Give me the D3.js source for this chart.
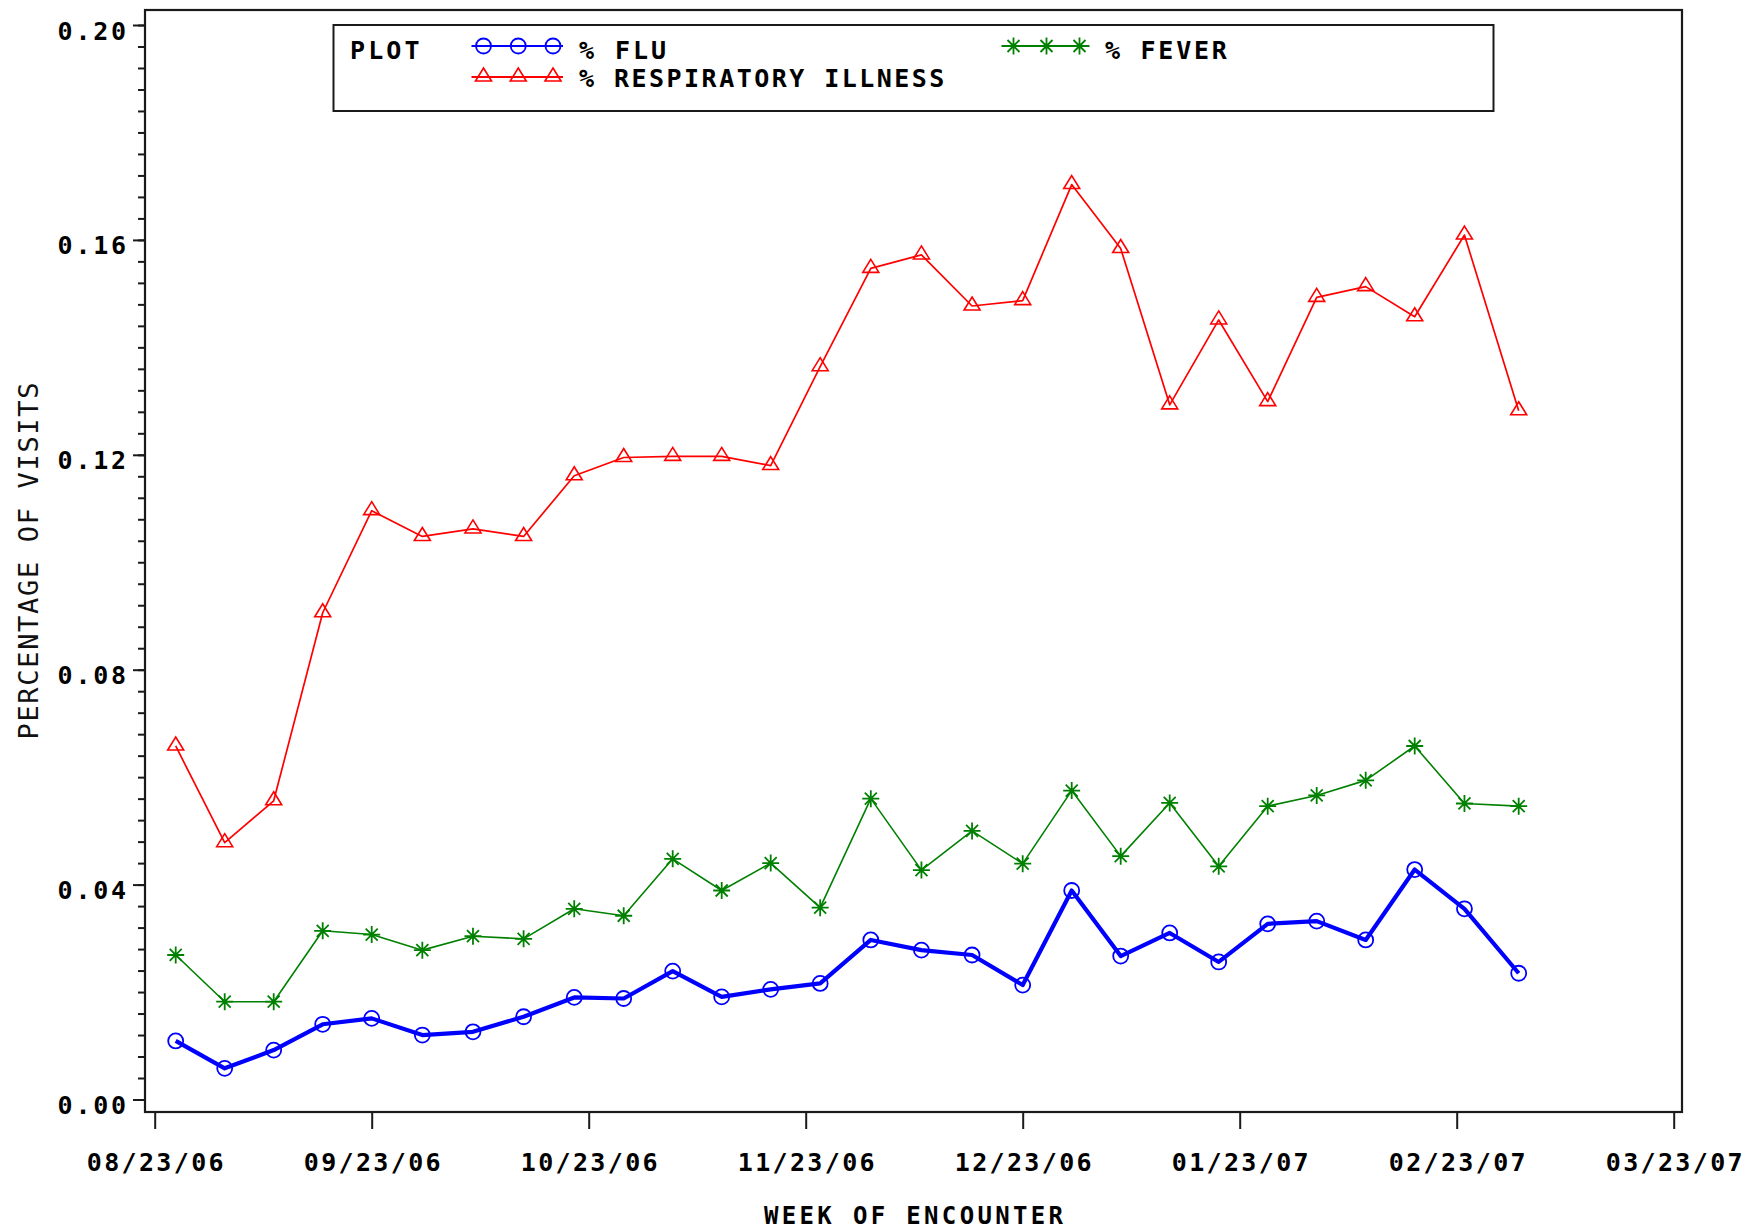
<!DOCTYPE html>
<html>
<head>
<meta charset="utf-8">
<script src="https://cdn.jsdelivr.net/npm/d3@7"></script>
<style>
  html, body { margin: 0; padding: 0; background: #ffffff; }
  svg { display: block; }
</style>
</head>
<body>
<svg id="chart" width="1756" height="1231"></svg>
<script>
// Weekly encounter dates (start of each week)
const weekStarts = [
  "2006-08-26", "2006-09-02", "2006-09-09", "2006-09-16", "2006-09-23", "2006-09-30",
  "2006-10-07", "2006-10-14", "2006-10-21", "2006-10-28", "2006-11-04", "2006-11-11",
  "2006-11-18", "2006-11-25", "2006-12-02", "2006-12-09", "2006-12-16", "2006-12-23",
  "2006-12-30", "2007-01-06", "2007-01-13", "2007-01-20", "2007-01-27", "2007-02-03",
  "2007-02-10", "2007-02-17", "2007-02-24", "2007-03-03"
];

// Percentage of visits by syndrome
const fluPct = [
  0.0109, 0.0058, 0.0092, 0.0140, 0.0151, 0.0120, 0.0126, 0.0154, 0.0190, 0.0188,
  0.0239, 0.0191, 0.0205, 0.0216, 0.0297, 0.0278, 0.0269, 0.0213, 0.0389, 0.0267,
  0.0310, 0.0256, 0.0327, 0.0332, 0.0297, 0.0428, 0.0355, 0.0235
];
const respiratoryPct = [
  0.0658, 0.0478, 0.0556, 0.0906, 0.1096, 0.1048, 0.1062, 0.1048, 0.1161, 0.1195,
  0.1197, 0.1197, 0.1180, 0.1364, 0.1547, 0.1572, 0.1477, 0.1487, 0.1703, 0.1584,
  0.1293, 0.1451, 0.1299, 0.1493, 0.1513, 0.1457, 0.1609, 0.1282
];
const feverPct = [
  0.0269, 0.0182, 0.0182, 0.0314, 0.0307, 0.0278, 0.0304, 0.0299, 0.0355, 0.0342,
  0.0448, 0.0389, 0.0440, 0.0357, 0.0560, 0.0427, 0.0500, 0.0439, 0.0575, 0.0453,
  0.0552, 0.0434, 0.0546, 0.0566, 0.0594, 0.0658, 0.0551, 0.0546
];

// Axis ticks
const xTickLabels = ["08/23/06", "09/23/06", "10/23/06", "11/23/06", "12/23/06", "01/23/07", "02/23/07", "03/23/07"];
const yMajorTicks = [0.00, 0.04, 0.08, 0.12, 0.16, 0.20];

const seriesNames = ["% FLU", "% RESPIRATORY ILLNESS", "% FEVER"];

// ---------------------------------------------------------------
const svg = d3.select("#chart");
const frame = { left: 145, top: 10, right: 1682, bottom: 1112 };

const parseWeek = d3.timeParse("%Y-%m-%d");
const parseTick = d3.timeParse("%m/%d/%y");
const weekDates = weekStarts.map(parseWeek);
const tickDates = xTickLabels.map(parseTick);

// Monthly ticks are evenly spaced; dates fall proportionally within each month
const xStart = 154.7, xEnd = 1673.7;
const x = d3.scaleTime()
  .domain(tickDates)
  .range(tickDates.map((d, i) => xStart + i * (xEnd - xStart) / (tickDates.length - 1)));

const y = d3.scaleLinear().domain([0, 0.2]).range([1099.5, 25]);

// Frame around the plot area
svg.append("rect")
  .attr("x", frame.left).attr("y", frame.top)
  .attr("width", frame.right - frame.left)
  .attr("height", frame.bottom - frame.top)
  .attr("fill", "none").attr("stroke", "#1a1a1a").attr("stroke-width", 2.2);

const labelFont = "DejaVu Sans Mono, Liberation Mono, monospace";

// Y axis: minor ticks every 0.004, labelled major ticks every 0.04
const yMinor = d3.range(0, 51).map(i => i * 0.004);
svg.append("g")
  .attr("transform", `translate(${frame.left},0)`)
  .call(d3.axisLeft(y).tickValues(yMinor).tickSize(7).tickFormat(""))
  .call(g => g.select(".domain").remove())
  .call(g => g.selectAll("line").attr("stroke", "#1a1a1a").attr("stroke-width", 2));

svg.append("g")
  .attr("transform", `translate(${frame.left},0)`)
  .call(d3.axisLeft(y).tickValues(yMajorTicks).tickSize(12).tickPadding(7).tickFormat(d3.format(".2f")))
  .call(g => g.select(".domain").remove())
  .call(g => g.selectAll("line").attr("stroke", "#1a1a1a").attr("stroke-width", 2))
  .call(g => g.selectAll("text")
    .attr("dy", null).attr("y", 14)
    .attr("fill", "#000")
    .attr("font-family", labelFont)
    .attr("font-weight", "bold")
    .attr("font-size", 25)
    .attr("textLength", d => d3.format(".2f")(d).length * 17.1)
    .attr("lengthAdjust", "spacing"));

// X axis: monthly ticks
svg.append("g")
  .attr("transform", `translate(0,${frame.bottom})`)
  .call(d3.axisBottom(x).tickValues(tickDates).tickSize(17).tickPadding(0)
    .tickFormat((d, i) => xTickLabels[i]))
  .call(g => g.select(".domain").remove())
  .call(g => g.selectAll("line").attr("stroke", "#1a1a1a").attr("stroke-width", 2))
  .call(g => g.selectAll("text")
    .attr("dy", null).attr("y", 59)
    .attr("fill", "#000")
    .attr("font-family", labelFont)
    .attr("font-weight", "bold")
    .attr("font-size", 25)
    .attr("textLength", (d, i) => xTickLabels[i].length * 17.1)
    .attr("lengthAdjust", "spacing"));

// Axis titles
svg.append("text")
  .attr("x", (frame.left + frame.right) / 2).attr("y", 1224)
  .attr("text-anchor", "middle")
  .attr("font-family", labelFont).attr("font-weight", "bold").attr("font-size", 24)
  .attr("textLength", 299).attr("lengthAdjust", "spacing")
  .text("WEEK OF ENCOUNTER");

svg.append("text")
  .attr("transform", `translate(38,${(frame.top + frame.bottom) / 2}) rotate(-90)`)
  .attr("text-anchor", "middle")
  .attr("font-family", labelFont).attr("font-weight", "normal").attr("font-size", 27)
  .attr("fill", "#111")
  .attr("textLength", 357).attr("lengthAdjust", "spacing")
  .text("PERCENTAGE OF VISITS");

// Marker shapes
const triPath = "M0,-9L8,4L-8,4Z";
const starPath = "M0,-8.5V8.5M-8.5,0H8.5M-6,-6L6,6M-6,6L6,-6";

const series = [
  { name: seriesNames[0], values: fluPct, color: "#0000ff", width: 4.2, marker: "circle" },
  { name: seriesNames[1], values: respiratoryPct, color: "#ff0000", width: 1.7, marker: "triangle" },
  { name: seriesNames[2], values: feverPct, color: "#008000", width: 1.6, marker: "star" }
];

function drawMarker(sel, s) {
  if (s.marker === "circle") {
    sel.append("circle").attr("r", 7.5)
      .attr("fill", "none").attr("stroke", s.color).attr("stroke-width", 1.8);
  } else if (s.marker === "triangle") {
    sel.append("path").attr("d", triPath)
      .attr("fill", "none").attr("stroke", s.color).attr("stroke-width", 1.6);
  } else {
    sel.append("path").attr("d", starPath)
      .attr("fill", "none").attr("stroke", s.color).attr("stroke-width", 1.8);
  }
}

const line = d3.line()
  .x((d, i) => x(weekDates[i]))
  .y(d => y(d));

// Draw order: respiratory, fever, flu on top
[series[1], series[2], series[0]].forEach(s => {
  const g = svg.append("g");
  g.append("path")
    .datum(s.values)
    .attr("d", line)
    .attr("fill", "none")
    .attr("stroke", s.color)
    .attr("stroke-width", s.width)
    .attr("stroke-linejoin", "round");
  g.selectAll("g.pt")
    .data(s.values)
    .join("g")
    .attr("class", "pt")
    .attr("transform", (d, i) => `translate(${x(weekDates[i])},${y(d)})`)
    .each(function () { drawMarker(d3.select(this), s); });
});

// Legend
const legend = svg.append("g");
legend.append("rect")
  .attr("x", 333.5).attr("y", 25).attr("width", 1160).attr("height", 86)
  .attr("fill", "#fff").attr("stroke", "#1a1a1a").attr("stroke-width", 2);

function legendText(xp, yp, str) {
  legend.append("text")
    .attr("x", xp).attr("y", yp)
    .attr("font-family", labelFont).attr("font-weight", "bold").attr("font-size", 25)
    .attr("textLength", str.length * 17.4).attr("lengthAdjust", "spacing")
    .text(str);
}
legendText(350, 59, "PLOT");

const legendItems = [
  { s: series[0], x0: 471.5, x1: 563, y: 46, text: 579, ty: 59 },
  { s: series[1], x0: 471.5, x1: 563, y: 77, text: 579, ty: 87 },
  { s: series[2], x0: 1001.5, x1: 1089.5, y: 46, text: 1105, ty: 59 }
];
legendItems.forEach(it => {
  legend.append("line")
    .attr("x1", it.x0).attr("x2", it.x1).attr("y1", it.y).attr("y2", it.y)
    .attr("stroke", it.s.color).attr("stroke-width", 1.8);
  [0, 1, 2].forEach(k => {
    const cx = it.x0 + 12 + k * (it.x1 - it.x0 - 22) / 2;
    drawMarker(legend.append("g").attr("transform", `translate(${cx},${it.y})`), it.s);
  });
  legendText(it.text, it.ty, it.s.name);
});
</script>
</body>
</html>
